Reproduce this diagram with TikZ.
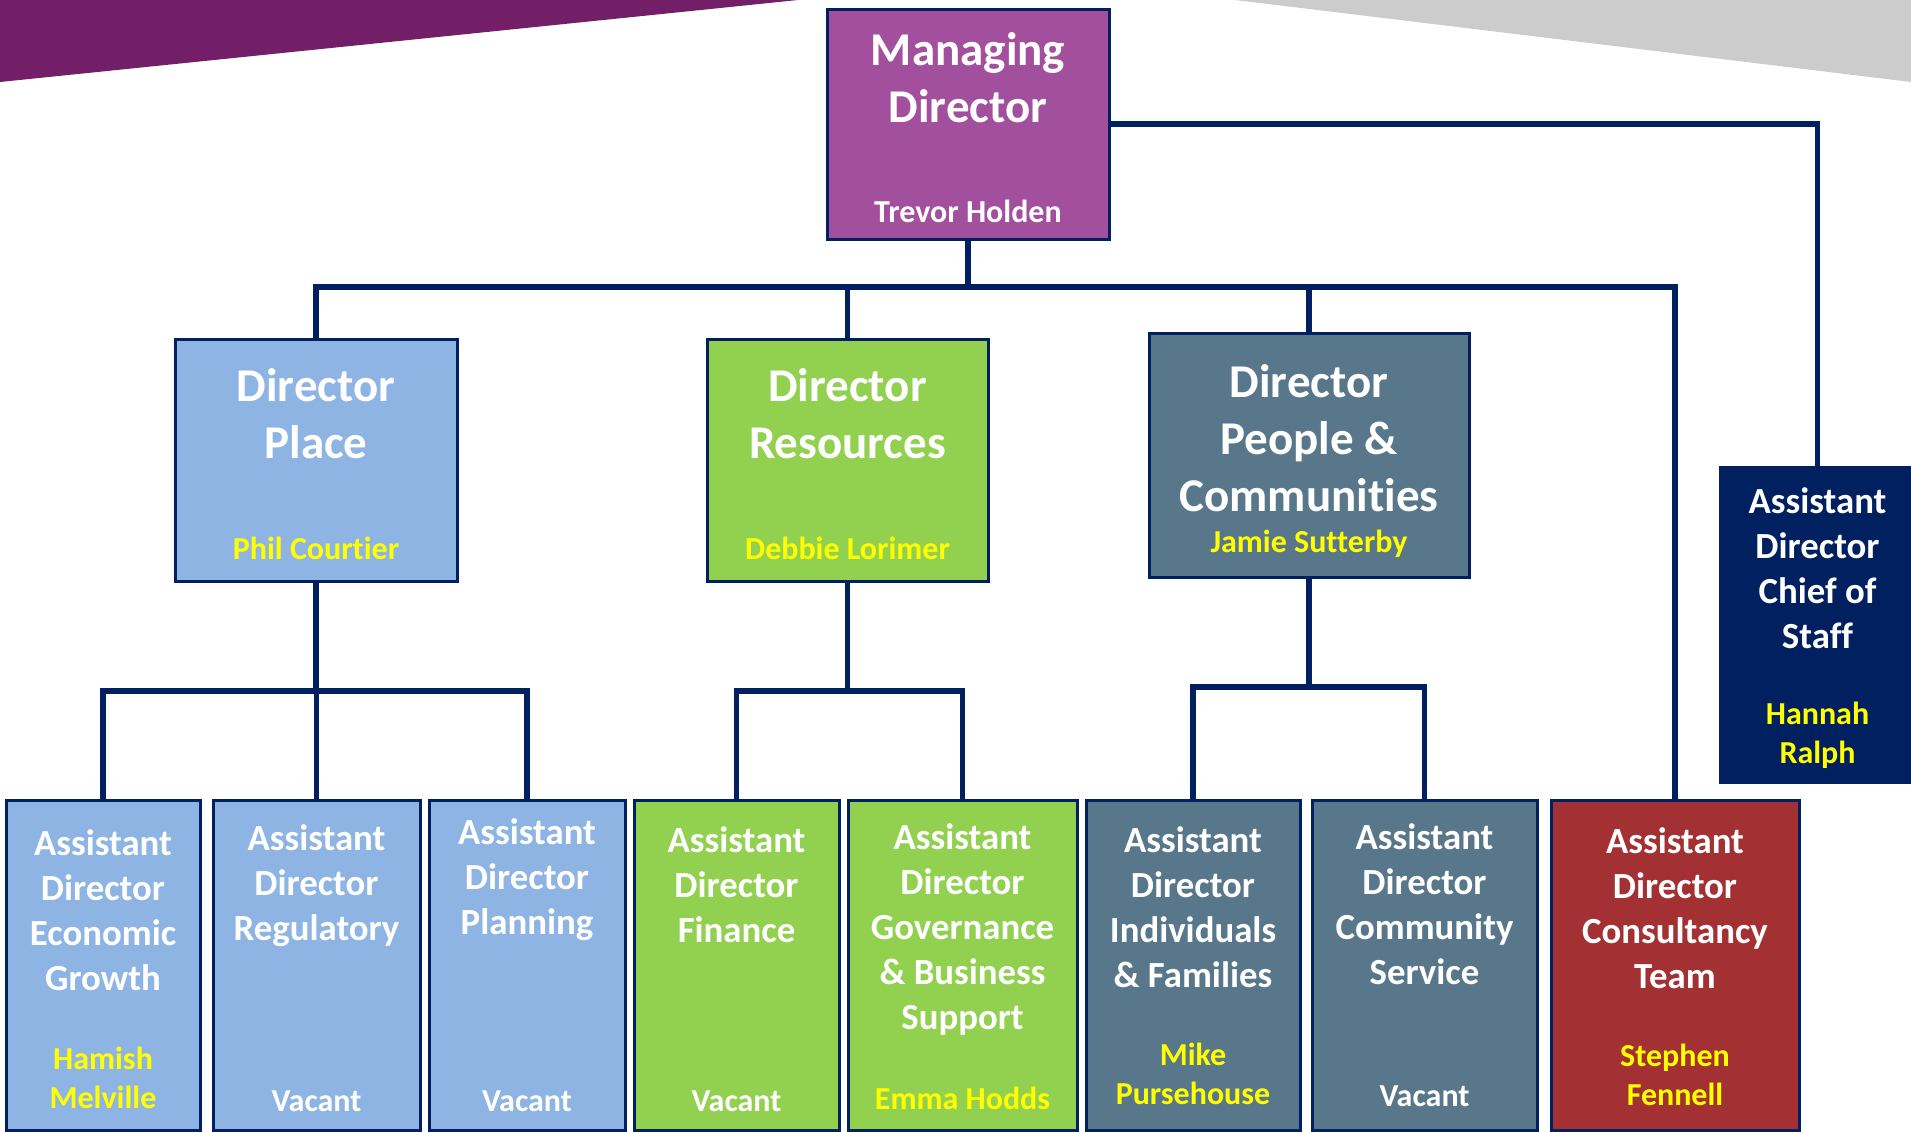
\documentclass[tikz,border=0pt]{standalone}
\usepackage{fontspec}
\setmainfont{Carlito}[Ligatures=NoCommon]
\usepackage{tikz}
\usetikzlibrary{positioning}
\usepackage{xcolor}

\definecolor{navy}{RGB}{0,32,96}
\definecolor{bannerpurple}{RGB}{115,31,104}
\definecolor{bannergrey}{RGB}{204,204,204}
\definecolor{mdpurple}{RGB}{162,79,157}
\definecolor{placeblue}{RGB}{142,180,227}
\definecolor{resgreen}{RGB}{146,208,80}
\definecolor{peopleslate}{RGB}{89,119,139}
\definecolor{consultred}{RGB}{163,48,51}
\definecolor{nameyellow}{RGB}{255,255,0}

\begin{document}
\begin{tikzpicture}[x=0.5pt, y=-0.5pt,
  unit/.style={draw=navy, line width=1.5pt, inner sep=0pt},
  bigtext/.style={text=white, font=\bfseries\fontsize{23.5}{28.5}\selectfont, align=center, inner sep=0pt},
  smalltext/.style={text=white, font=\bfseries\fontsize{18.4}{22.5}\selectfont, align=center, inner sep=0pt},
  nametext/.style={text=nameyellow, font=\bfseries\fontsize{16}{19.5}\selectfont, align=center, inner sep=0pt},
  link/.style={draw=navy, line width=2.6pt}]

\useasboundingbox (0,0) rectangle (1911,1131);
\clip (0,0) rectangle (1911,1131);

%%%%%%%%%% Banner %%%%%%%%
{
\fill[bannerpurple] (0,0)--(798,0)--(0,82)--cycle;
\fill[bannergrey] (1235,0)--(1911,0)--(1911,82)--cycle;
}

%%%%%%%%%%%%     Managing Director   %%%%%%%%%%%%
{
\node[unit, fill=mdpurple, minimum width=141pt, minimum height=115pt] (md) at (968,124) {};
\node[bigtext] (mdtitle) at (968,78) {Managing\\Director};
\node[nametext, text=white] (mdname) at (968,211) {Trevor Holden};
}

%%%%%%%%%%%%     Directors   %%%%%%%%%%%%
{
\node[unit, fill=placeblue, minimum width=141pt, minimum height=121pt] (place) at (316,460) {};
\node[bigtext] (placetitle) at (316,414) {Director\\Place};
\node[nametext] (placename) at (316,548) {Phil Courtier};

\node[unit, fill=resgreen, minimum width=140.5pt, minimum height=121pt] (res) at (847.5,460) {};
\node[bigtext] (restitle) at (847.5,414) {Director\\Resources};
\node[nametext] (resname) at (847.5,548) {Debbie Lorimer};

\node[unit, fill=peopleslate, minimum width=160pt, minimum height=122pt] (people) at (1309,455) {};
\node[bigtext] (peopletitle) at (1309,438) {Director\\People \&\\Communities};
\node[nametext] (peoplename) at (1309,544) {Jamie Sutterby};

\node[unit, fill=navy, minimum width=97.5pt, minimum height=157.5pt] (chief) at (1817.5,624.5) {};
\node[smalltext] (chieftitle) at (1817.5,568) {Assistant\\Director\\Chief of\\Staff};
\node[nametext] (chiefname) at (1817.5,735) {Hannah\\Ralph};
}

%%%%%%%%%%%%     Assistant Directors   %%%%%%%%%%%%
{
\node[unit, fill=placeblue, minimum width=97pt, minimum height=165pt] (econ) at (103,965) {};
\node[smalltext] (econtitle) at (103,910) {Assistant\\Director\\Economic\\Growth};
\node[nametext] (econname) at (103,1078) {Hamish\\Melville};

\node[unit, fill=placeblue, minimum width=103.5pt, minimum height=165pt] (reg) at (316.5,965) {};
\node[smalltext] (regtitle) at (316.5,886) {Assistant\\Director\\Regulatory};
\node[nametext, text=white] (regname) at (316.5,1101) {Vacant};

\node[unit, fill=placeblue, minimum width=98pt, minimum height=165pt] (plan) at (527,965) {};
\node[smalltext] (plantitle) at (527,880) {Assistant\\Director\\Planning};
\node[nametext, text=white] (planname) at (527,1101) {Vacant};

\node[unit, fill=resgreen, minimum width=102.5pt, minimum height=165pt] (fin) at (736.5,965) {};
\node[smalltext] (fintitle) at (736.5,885) {Assistant\\Director\\Finance};
\node[nametext, text=white] (finname) at (736.5,1101) {Vacant};

\node[unit, fill=resgreen, minimum width=114.5pt, minimum height=165pt] (gov) at (962.5,965) {};
\node[smalltext] (govtitle) at (962.5,929) {Assistant\\Director\\Governance\\\& Business\\Support};
\node[nametext] (govname) at (962.5,1098) {Emma Hodds};

\node[unit, fill=peopleslate, minimum width=107pt, minimum height=165pt] (ind) at (1193,965) {};
\node[smalltext] (indtitle) at (1193,907) {Assistant\\Director\\Individuals\\\& Families};
\node[nametext] (indname) at (1193,1074) {Mike\\Pursehouse};

\node[unit, fill=peopleslate, minimum width=112.5pt, minimum height=165pt] (com) at (1424.5,965) {};
\node[smalltext] (comtitle) at (1424.5,904) {Assistant\\Director\\Community\\Service};
\node[nametext, text=white] (comname) at (1424.5,1096) {Vacant};

\node[unit, fill=consultred, minimum width=124pt, minimum height=165pt] (con) at (1675,965) {};
\node[smalltext] (contitle) at (1675,908) {Assistant\\Director\\Consultancy\\Team};
\node[nametext] (conname) at (1675,1075) {Stephen\\Fennell};
}

%%%%%%%%%%%%     Connectors   %%%%%%%%%%%%
{
\coordinate (topbus) at (966,287);
\draw[link] (md.south) -- (md.south |- topbus);
\draw[link] (place.north) |- (con.north |- topbus) -- (con.north);
\draw[link] (res.north) -- (res.north |- topbus);
\draw[link] (people.north) -- (people.north |- topbus);
\draw[link] (md.east) -| (chief.north);

\coordinate (placebus) at (316,691);
\draw[link] (place.south) -- (place.south |- placebus);
\draw[link] (econ.north) |- (plan.north |- placebus) -- (plan.north);
\draw[link] (reg.north) -- (reg.north |- placebus);

\coordinate (resbus) at (847,691);
\draw[link] (res.south) -- (res.south |- resbus);
\draw[link] (fin.north) |- (gov.north |- resbus) -- (gov.north);

\coordinate (peoplebus) at (1309,687);
\draw[link] (people.south) -- (people.south |- peoplebus);
\draw[link] (ind.north) |- (com.north |- peoplebus) -- (com.north);
}

\end{tikzpicture}
\end{document}
